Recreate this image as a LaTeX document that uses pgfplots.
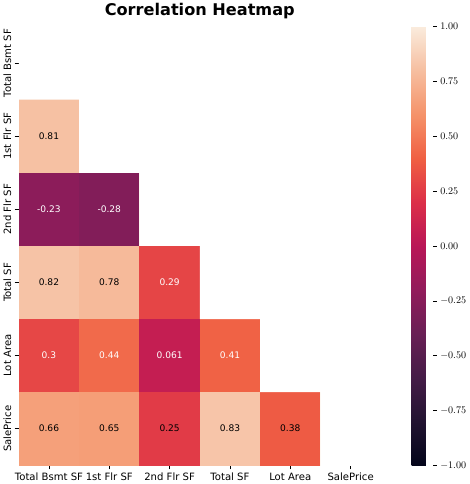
\documentclass[border=0pt]{standalone}
\usepackage{pgfplots}
\pgfplotsset{compat=1.18}
\usepackage{fontspec}
\setmainfont{DejaVu Sans}
\begin{document}
\begin{tikzpicture}
\begin{axis}[
  scale only axis, width=359pt, height=435pt,
  xmin=-0.5, xmax=5.5, ymin=-0.5, ymax=5.5, y dir=reverse,
  axis line style={draw=none},
  xtick={0,...,5}, ytick={0,...,5}, xtick pos=bottom, ytick pos=left,
  xticklabels={Total Bsmt SF,1st Flr SF,2nd Flr SF,Total SF,Lot Area,SalePrice},
  yticklabels={Total Bsmt SF,1st Flr SF,2nd Flr SF,Total SF,Lot Area,SalePrice},
  yticklabel style={rotate=90, anchor=south},
  tick align=outside, major tick length=4pt, tick style={black, thin},
  ticklabel style={font=\fontsize{10}{12}\selectfont},
  title={\textbf{Correlation Heatmap}}, title style={font=\fontsize{16}{19}\selectfont, yshift=-2pt},
  colormap={rocket}{rgb255(0)=(3,5,26) rgb255(1)=(34,19,49) rgb255(2)=(69,28,71) rgb255(3)=(105,31,85) rgb255(4)=(146,28,91) rgb255(5)=(185,22,87) rgb255(6)=(220,47,72) rgb255(7)=(240,96,67) rgb255(8)=(245,147,106) rgb255(9)=(246,191,160) rgb255(10)=(250,235,221)},
  point meta min=-1, point meta max=1,
  colorbar,
  colorbar style={width=21pt, at={(parent axis.north east)}, anchor=north west, xshift=22pt,
    ytick={-1,-0.75,...,1}, axis line style={draw=none}, ytick pos=right,
    yticklabel style={/pgf/number format/.cd, fixed, fixed zerofill, precision=2, /tikz/.cd, font=\fontsize{10}{12}\selectfont},
    tick align=outside, major tick length=4pt},
]
\addplot[matrix plot*, mesh/cols=6, point meta=explicit] table[meta=c] {
x y c
0 0 1
1 0 0.81
2 0 -0.23
3 0 0.82
4 0 0.3
5 0 0.66
0 1 0.81
1 1 1
2 1 -0.28
3 1 0.78
4 1 0.44
5 1 0.65
0 2 -0.23
1 2 -0.28
2 2 1
3 2 0.29
4 2 0.061
5 2 0.25
0 3 0.82
1 3 0.78
2 3 0.29
3 3 1
4 3 0.41
5 3 0.83
0 4 0.3
1 4 0.44
2 4 0.061
3 4 0.41
4 4 1
5 4 0.38
0 5 0.66
1 5 0.65
2 5 0.25
3 5 0.83
4 5 0.38
5 5 1
};
\addplot[fill=white, draw=none] coordinates {(-0.52,-0.52) (5.52,-0.52) (5.52,5.52) (4.5,5.52) (4.5,4.5) (3.5,4.5) (3.5,3.5) (2.5,3.5) (2.5,2.5) (1.5,2.5) (1.5,1.5) (0.5,1.5) (0.5,0.5) (-0.52,0.5)} -- cycle;
\addplot[only marks, mark=none, nodes near coords, point meta=explicit symbolic,
  nodes near coords style={anchor=center, text=black, font=\fontsize{9}{11}\selectfont}] table[meta=l] {
x y l
0 1 0.81
0 3 0.82
1 3 0.78
0 5 0.66
1 5 0.65
2 5 0.25
3 5 0.83
4 5 0.38
};
\addplot[only marks, mark=none, nodes near coords, point meta=explicit symbolic,
  nodes near coords style={anchor=center, text=white, font=\fontsize{9}{11}\selectfont}] table[meta=l] {
x y l
0 2 -0.23
1 2 -0.28
2 3 0.29
0 4 0.3
1 4 0.44
2 4 0.061
3 4 0.41
};
\end{axis}
\end{tikzpicture}
\end{document}
